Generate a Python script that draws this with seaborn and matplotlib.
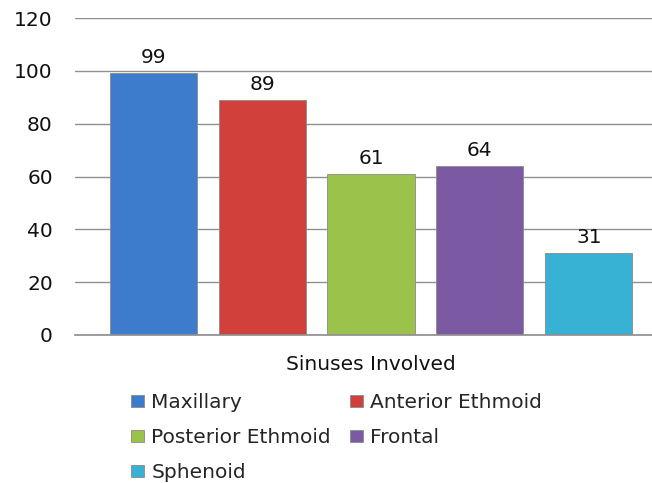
import pandas as pd
import matplotlib
matplotlib.use("Agg")
import matplotlib.pyplot as plt
import seaborn as sns

# chart data
category = "Sinuses Involved"
sinuses = ["Maxillary", "Anterior Ethmoid", "Posterior Ethmoid", "Frontal", "Sphenoid"]
counts = [99, 89, 61, 64, 31]
colors = ["#3d7ccc", "#d2403c", "#9bc24a", "#7b5aa3", "#37b2d4"]
yticks = [0, 20, 40, 60, 80, 100, 120]

df = pd.DataFrame({"cat": [category] * len(sinuses), "sinus": sinuses, "count": counts})

sns.set_theme(style="white")
plt.rcParams["font.family"] = ["DejaVu Sans"]
fs = 14.5

fig = plt.figure(figsize=(6.52, 4.83), dpi=100)
ax = fig.add_axes([75 / 652, 148 / 483, 592 / 652, 317 / 483])

sns.barplot(data=df, x="cat", y="count", hue="sinus", hue_order=sinuses,
            palette=colors, width=0.92, gap=0.2, dodge=True, ax=ax,
            edgecolor="#8a8a8a", linewidth=0.6, saturation=1)

for cont in ax.containers:
    ax.bar_label(cont, padding=4.5, fontsize=fs, color="#111111")

ax.set_ylim(0, 120)
ax.set_yticks(yticks)
ax.set_xlim(-0.5, 0.5)
ax.yaxis.grid(True, color="#909090", linewidth=1)
ax.set_axisbelow(True)
for s in ["left", "right", "top"]:
    ax.spines[s].set_visible(False)
ax.spines["bottom"].set_color("#909090")
ax.tick_params(axis="both", length=0, labelsize=fs, colors="#111111")
ax.tick_params(axis="y", pad=16)
ax.tick_params(axis="x", pad=14.5)
ax.set_xlabel("")
ax.set_ylabel("")

handles, labels = ax.get_legend_handles_labels()
ax.legend_.remove()
order = [0, 2, 4, 1, 3]
fig.legend([handles[i] for i in order], [labels[i] for i in order],
           loc="upper left", bbox_to_anchor=(131 / 652, 1 - 393 / 483),
           ncol=2, frameon=False, fontsize=fs, borderpad=0, borderaxespad=0,
           handlelength=0.65, handleheight=0.55, handletextpad=0.35,
           columnspacing=0.95, labelspacing=0.8)

fig.savefig("out.png", dpi=100)
